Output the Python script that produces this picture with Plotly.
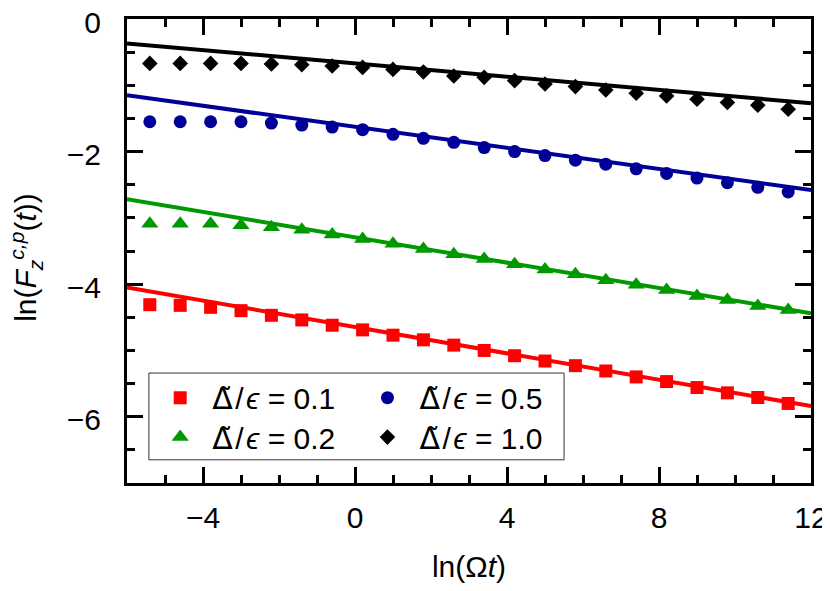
"""Decay of ln(F_z^{c,p}(t)) versus ln(Omega t) for four Delta/epsilon ratios."""

import plotly.graph_objects as go

# -- data --
ln_wt = [-5.4, -4.6, -3.8, -3.0, -2.2, -1.4, -0.6, 0.2, 1.0, 1.8, 2.6,
         3.4, 4.2, 5.0, 5.8, 6.6, 7.4, 8.2, 9.0, 9.8, 10.6, 11.4]

f_01 = [-4.31, -4.32, -4.35, -4.40, -4.47, -4.54, -4.62, -4.69, -4.77, -4.84, -4.92,
        -5.00, -5.08, -5.16, -5.23, -5.31, -5.40, -5.47, -5.56, -5.64, -5.71, -5.80]
f_02 = [-3.09, -3.09, -3.09, -3.11, -3.14, -3.18, -3.25, -3.32, -3.39, -3.47, -3.55,
        -3.62, -3.70, -3.78, -3.85, -3.94, -4.01, -4.09, -4.18, -4.24, -4.33, -4.39]
f_05 = [-1.55, -1.55, -1.55, -1.55, -1.57, -1.60, -1.63, -1.67, -1.74, -1.80, -1.86,
        -1.94, -2.00, -2.06, -2.13, -2.19, -2.26, -2.33, -2.40, -2.47, -2.54, -2.61]
f_10 = [-0.67, -0.67, -0.67, -0.67, -0.68, -0.69, -0.71, -0.73, -0.76, -0.80, -0.86,
        -0.88, -0.93, -0.98, -1.02, -1.07, -1.12, -1.16, -1.21, -1.26, -1.30, -1.36]

# straight-line fits, given by their end points
fit_x = [-6.0, 12.0]
fit_01 = [-4.05, -5.84]
fit_02 = [-2.72, -4.44]
fit_05 = [-1.15, -2.58]
fit_10 = [-0.37, -1.27]

ratios = ["0.1", "0.2", "0.5", "1.0"]

FONT = "Liberation Sans, Arial, sans-serif"
DELTA = '<span style="font-family:DejaVu Sans">Δ̃</span>'
Y_TITLE = "ln(<i>F</i><sub><i>z</i></sub><sup><i>c,p</i></sup>(<i>t</i>))"

series = [
    # values, fit, colour, symbol, size
    (f_01, fit_01, "#FF0000", "square", 13),
    (f_02, fit_02, "#009900", "triangle-up", 15),
    (f_05, fit_05, "#000099", "circle", 13),
    (f_10, fit_10, "#000000", "diamond", 12),
]
legend_ids = ["legend", "legend2", "legend3", "legend4"]

fig = go.Figure()

for (vals, fit, color, symbol, size), ratio, leg in zip(series, ratios, legend_ids):
    fig.add_trace(go.Scatter(
        x=fit_x, y=fit, mode="lines",
        line={"color": color, "width": 4},
        showlegend=False, hoverinfo="skip",
    ))
    fig.add_trace(go.Scatter(
        x=ln_wt, y=vals, mode="markers",
        marker={"symbol": symbol, "size": size, "color": color},
        name=f"{DELTA}\u200a/\u200a<i>ϵ</i> = {ratio}",
        legend=leg,
    ))

axis_common = {
    "showgrid": False, "zeroline": False, "automargin": False,
    "showline": True, "linewidth": 3, "linecolor": "black",
    "mirror": "ticks", "ticklabeloverflow": "allow",
    "ticks": "inside", "ticklen": 16, "tickwidth": 3, "tickcolor": "black",
    "tickfont": {"size": 30, "color": "black", "family": FONT},
}

legend_common = {
    "font": {"size": 30, "color": "black", "family": FONT},
    "bgcolor": "rgba(0,0,0,0)", "borderwidth": 0,
    "itemwidth": 54, "yanchor": "top", "xanchor": "left",
}

# the page body keeps its default 8px margin, so the figure sits 8px in
fig.update_layout(
    width=822, height=575,
    paper_bgcolor="white", plot_bgcolor="white",
    margin={"l": 119, "r": 19, "t": 11, "b": 100},
    font={"family": FONT, "color": "black"},
    xaxis={
        **axis_common,
        "range": [-6, 12], "tickmode": "linear", "tick0": 0, "dtick": 4,
        "minor": {"dtick": 1, "tick0": 0, "ticks": "inside", "ticklen": 8,
                  "tickwidth": 2.5, "tickcolor": "black", "showgrid": False},
        "ticklabelstandoff": 6,
        "title": {"text": "ln(Ω<i>t</i>)", "font": {"size": 30}, "standoff": 25},
    },
    yaxis={
        **axis_common,
        "range": [-7, 0], "tickmode": "linear", "tick0": 0, "dtick": 2,
        "minor": {"dtick": 0.5, "tick0": 0, "ticks": "inside", "ticklen": 8,
                  "tickwidth": 2.5, "tickcolor": "black", "showgrid": False},
        "ticklabelstandoff": 17, "ticklabelshift": 3,
    },
    annotations=[{
        "text": Y_TITLE, "xref": "paper", "yref": "paper",
        "x": -0.148, "y": 0.487, "xanchor": "center", "yanchor": "middle",
        "textangle": -90, "showarrow": False,
        "font": {"size": 30, "color": "black", "family": FONT},
    }],
    legend={**legend_common, "x": 0.031, "y": 0.240},
    legend2={**legend_common, "x": 0.031, "y": 0.155},
    legend3={**legend_common, "x": 0.334, "y": 0.240},
    legend4={**legend_common, "x": 0.334, "y": 0.155},
    shapes=[{
        "type": "rect", "xref": "paper", "yref": "paper",
        "x0": 0.032, "x1": 0.639, "y0": 0.050, "y1": 0.237,
        "line": {"color": "#333333", "width": 1},
    }],
)

fig.write_html("out.html")
